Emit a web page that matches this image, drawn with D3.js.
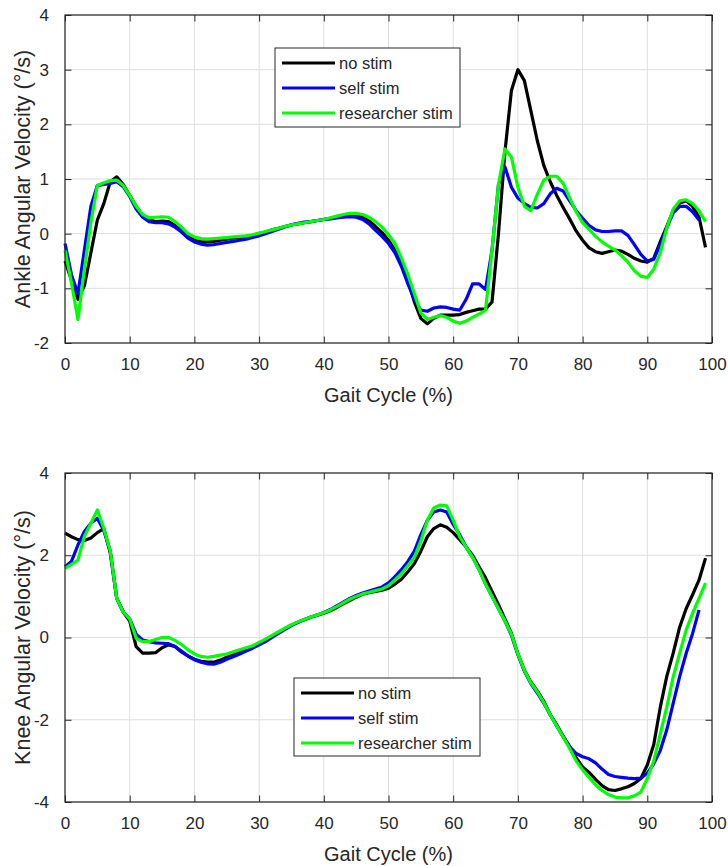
<!DOCTYPE html>
<html>
<head>
<meta charset="utf-8">
<script src="https://cdn.jsdelivr.net/npm/d3@7"></script>
<style>
  html, body { margin: 0; padding: 0; background: #ffffff; }
  svg { display: block; font-family: "Liberation Sans", Arial, Helvetica, sans-serif; }
</style>
</head>
<body>
<svg id="chart" width="728" height="866"></svg>
<script>
// Legend entries and line colours
const seriesNames = ["no stim", "self stim", "researcher stim"];
const seriesColors = ["#000000", "#0000ff", "#00ff00"];

// Ankle angular velocity (deg/s), one value per 1% of the gait cycle
const ankleNoStim = [
  -0.5, -0.85, -1.2, -0.95, -0.35, 0.25, 0.55, 0.95, 1.04, 0.9,
  0.7, 0.5, 0.33, 0.25, 0.22, 0.23, 0.22, 0.15, 0.05, -0.05,
  -0.12, -0.15, -0.15, -0.14, -0.12, -0.1, -0.08, -0.07, -0.05, -0.03,
  0.0, 0.03, 0.07, 0.1, 0.13, 0.16, 0.18, 0.2, 0.22, 0.24,
  0.26, 0.28, 0.3, 0.32, 0.33, 0.33, 0.3, 0.23, 0.13, 0.02,
  -0.12, -0.3, -0.55, -0.85, -1.25, -1.55, -1.65, -1.55, -1.49, -1.49,
  -1.49, -1.48, -1.44, -1.41, -1.38, -1.38, -1.25, 0.0, 1.5, 2.62,
  3.0, 2.8, 2.25, 1.7, 1.25, 0.95, 0.7, 0.48, 0.27, 0.05,
  -0.12, -0.26, -0.33, -0.36, -0.33, -0.3, -0.32, -0.38, -0.45, -0.5,
  -0.52, -0.45, -0.15, 0.13, 0.42, 0.56, 0.6, 0.5, 0.3, -0.25
];
const ankleSelfStim = [
  -0.18, -0.75, -1.1, -0.3, 0.5, 0.88, 0.9, 0.92, 0.95, 0.86,
  0.68, 0.45, 0.3, 0.22, 0.2, 0.2, 0.18, 0.12, 0.03, -0.08,
  -0.15, -0.19, -0.21, -0.2, -0.18, -0.16, -0.14, -0.12, -0.1, -0.07,
  -0.04, 0.0, 0.04, 0.08, 0.12, 0.16, 0.19, 0.21, 0.22, 0.24,
  0.26, 0.27, 0.29, 0.3, 0.31, 0.3, 0.26, 0.18, 0.06, -0.05,
  -0.18, -0.35, -0.6, -0.92, -1.2, -1.4, -1.42, -1.36, -1.34, -1.35,
  -1.38, -1.4, -1.2, -0.92, -0.92, -1.02, -0.3, 0.9, 1.22, 0.85,
  0.65, 0.55, 0.48, 0.47, 0.55, 0.73, 0.83, 0.78, 0.6, 0.42,
  0.28, 0.15, 0.07, 0.04, 0.04, 0.05, 0.05, -0.03, -0.2, -0.38,
  -0.5, -0.47, -0.2, 0.1, 0.38, 0.5, 0.5, 0.4, 0.25
];
const ankleResearcherStim = [
  -0.3, -0.9, -1.57, -0.65, 0.2, 0.88, 0.93, 0.97, 0.98, 0.88,
  0.7, 0.5, 0.35, 0.29, 0.3, 0.31, 0.3, 0.22, 0.12, 0.0,
  -0.06, -0.09, -0.1, -0.09, -0.08, -0.07, -0.06, -0.05, -0.04, -0.02,
  0.01, 0.04, 0.07, 0.1, 0.13, 0.16, 0.18, 0.2, 0.22, 0.24,
  0.26, 0.29, 0.32, 0.35, 0.37, 0.37, 0.35, 0.3, 0.22, 0.12,
  -0.02, -0.18, -0.45, -0.75, -1.1, -1.45, -1.57, -1.53, -1.5, -1.53,
  -1.6, -1.64, -1.6, -1.53, -1.47, -1.4, -0.3, 0.9, 1.55, 1.4,
  0.85, 0.5, 0.42, 0.72, 0.98, 1.05, 1.05, 0.92, 0.65, 0.4,
  0.2, 0.08, -0.05, -0.15, -0.23, -0.3, -0.4, -0.52, -0.68, -0.78,
  -0.8, -0.65, -0.35, 0.1, 0.45, 0.6, 0.62, 0.55, 0.42, 0.22
];

// Knee angular velocity (deg/s), one value per 1% of the gait cycle
const kneeNoStim = [
  2.54, 2.45, 2.38, 2.36, 2.42, 2.55, 2.65, 2.05, 0.95, 0.62,
  0.4, -0.22, -0.38, -0.38, -0.37, -0.25, -0.18, -0.22, -0.35, -0.45,
  -0.53, -0.58, -0.6, -0.6, -0.55, -0.48, -0.42, -0.36, -0.3, -0.23,
  -0.15, -0.07, 0.02, 0.12, 0.21, 0.3, 0.37, 0.43, 0.49, 0.54,
  0.59, 0.65, 0.73, 0.82, 0.9, 0.98, 1.05, 1.09, 1.12, 1.15,
  1.2, 1.3, 1.42, 1.6, 1.8, 2.1, 2.45, 2.65, 2.74, 2.68,
  2.55, 2.38, 2.2, 2.0, 1.72, 1.45, 1.12, 0.8, 0.45, 0.1,
  -0.4, -0.8, -1.08, -1.3, -1.55, -1.88, -2.12, -2.4, -2.65, -2.92,
  -3.15, -3.28, -3.45, -3.6, -3.7, -3.72, -3.68, -3.63, -3.55, -3.43,
  -3.1, -2.6, -1.7, -0.95, -0.38, 0.25, 0.7, 1.04, 1.4, 1.93
];
const kneeSelfStim = [
  1.72, 1.85, 2.25, 2.58, 2.78, 2.9, 2.6, 2.1, 0.95, 0.62,
  0.45, 0.08, -0.06, -0.1, -0.13, -0.14, -0.15, -0.22, -0.33, -0.45,
  -0.54, -0.6, -0.64, -0.65, -0.6, -0.53, -0.47, -0.4, -0.33, -0.26,
  -0.18, -0.1, 0.0, 0.1, 0.2, 0.29, 0.37, 0.44, 0.5, 0.55,
  0.61, 0.68, 0.77, 0.86, 0.95, 1.02, 1.08, 1.13, 1.18, 1.23,
  1.33, 1.48, 1.65, 1.85, 2.1, 2.5, 2.85, 3.05, 3.1, 3.05,
  2.75, 2.5, 2.2, 1.95, 1.65, 1.3, 1.0, 0.7, 0.4, 0.05,
  -0.42, -0.82, -1.12, -1.35, -1.6, -1.88, -2.15, -2.42, -2.65, -2.82,
  -2.9, -2.95, -3.05, -3.2, -3.33, -3.38, -3.4, -3.42, -3.43, -3.42,
  -3.3, -3.07, -2.75, -2.25, -1.6, -0.95, -0.39, 0.1, 0.67
];
const kneeResearcherStim = [
  1.68, 1.78, 1.88, 2.46, 2.78, 3.1, 2.65, 2.1, 0.95, 0.62,
  0.45, -0.02, -0.1, -0.1, -0.05, 0.0, 0.0, -0.07, -0.17, -0.3,
  -0.4, -0.46, -0.48, -0.46, -0.43, -0.4, -0.35, -0.3, -0.25, -0.2,
  -0.12, -0.04, 0.05, 0.14, 0.23, 0.31, 0.38, 0.44, 0.5, 0.55,
  0.6, 0.67, 0.75, 0.84, 0.93, 1.0, 1.06, 1.1, 1.14, 1.18,
  1.26, 1.4, 1.55, 1.75, 1.95, 2.35, 2.85, 3.15, 3.22, 3.2,
  2.85, 2.45, 2.2, 1.95, 1.65, 1.3, 1.0, 0.7, 0.4, 0.08,
  -0.4, -0.8, -1.1, -1.32, -1.58, -1.88, -2.15, -2.42, -2.7, -3.0,
  -3.22, -3.4, -3.58, -3.72, -3.82, -3.88, -3.9, -3.9, -3.85, -3.76,
  -3.43, -3.0, -2.35, -1.7, -0.96, -0.39, 0.18, 0.59, 0.95, 1.32
];

// Axis ticks
const xTicks = [0, 10, 20, 30, 40, 50, 60, 70, 80, 90, 100];
const ankleYTicks = [-2, -1, 0, 1, 2, 3, 4];
const kneeYTicks = [-4, -2, 0, 2, 4];

const xLabel = "Gait Cycle (%)";
const ankleYLabel = "Ankle Angular Velocity (°/s)";
const kneeYLabel = "Knee Angular Velocity (°/s)";

const svg = d3.select("#chart");
const axisColor = "#262626";
const gridColor = "#dfdfdf";
const tickFont = 17;
const xLabelFont = 20;
const yLabelFont = 21.5;
const legendFont = 16.5;
// plain hyphen for negative tick values
const tickFmt = d => String(d);

function drawPanel(cfg) {
  const { left, right, top, bottom, yDomain, yTicks, yLabel, series, legend } = cfg;
  const x = d3.scaleLinear().domain([0, 100]).range([left, right]);
  const y = d3.scaleLinear().domain(yDomain).range([bottom, top]);
  const g = svg.append("g");

  // grid
  g.append("g").selectAll("line").data(xTicks).join("line")
    .attr("x1", d => x(d)).attr("x2", d => x(d))
    .attr("y1", top).attr("y2", bottom)
    .attr("stroke", gridColor).attr("stroke-width", 1);
  g.append("g").selectAll("line").data(yTicks).join("line")
    .attr("x1", left).attr("x2", right)
    .attr("y1", d => y(d)).attr("y2", d => y(d))
    .attr("stroke", gridColor).attr("stroke-width", 1);

  // axes with inward ticks on all four sides
  const tl = 6.5;
  const xb = g.append("g").attr("transform", `translate(0,${bottom})`)
    .call(d3.axisBottom(x).tickValues(xTicks).tickSizeInner(-tl).tickSizeOuter(0).tickPadding(15).tickFormat(tickFmt));
  const xt = g.append("g").attr("transform", `translate(0,${top})`)
    .call(d3.axisTop(x).tickValues(xTicks).tickSizeInner(-tl).tickSizeOuter(0).tickFormat(""));
  const yl = g.append("g").attr("transform", `translate(${left},0)`)
    .call(d3.axisLeft(y).tickValues(yTicks).tickSizeInner(-tl).tickSizeOuter(0).tickPadding(16).tickFormat(tickFmt));
  const yr = g.append("g").attr("transform", `translate(${right},0)`)
    .call(d3.axisRight(y).tickValues(yTicks).tickSizeInner(-tl).tickSizeOuter(0).tickFormat(""));
  [xb, xt, yl, yr].forEach(a => {
    a.select(".domain").remove();
    a.selectAll(".tick line").attr("stroke", axisColor).attr("stroke-width", 1);
    a.selectAll(".tick text").attr("fill", axisColor).style("font-size", tickFont + "px")
      .style("font-family", "'Liberation Sans', Arial, sans-serif");
  });

  // data lines
  const line = d3.line().x((d, i) => x(i)).y(d => y(d));
  series.forEach((vals, k) => {
    g.append("path").datum(vals)
      .attr("d", line)
      .attr("fill", "none")
      .attr("stroke", seriesColors[k])
      .attr("stroke-width", 3.2)
      .attr("stroke-linejoin", "round")
      .attr("stroke-linecap", "butt");
  });

  // axes box
  g.append("rect").attr("x", left).attr("y", top)
    .attr("width", right - left).attr("height", bottom - top)
    .attr("fill", "none").attr("stroke", axisColor).attr("stroke-width", 1.2);

  // axis titles
  g.append("text").attr("x", (left + right) / 2).attr("y", bottom + 59)
    .attr("text-anchor", "middle").attr("fill", axisColor)
    .style("font-size", xLabelFont + "px").text(xLabel);
  g.append("text")
    .attr("transform", `translate(${left - 35},${(top + bottom) / 2}) rotate(-90)`)
    .attr("text-anchor", "middle").attr("fill", axisColor)
    .style("font-size", yLabelFont + "px").text(yLabel);

  // legend
  const lg = g.append("g");
  lg.append("rect").attr("x", legend.x).attr("y", legend.y)
    .attr("width", legend.w).attr("height", legend.h)
    .attr("fill", "#ffffff").attr("stroke", axisColor).attr("stroke-width", 1);
  seriesNames.forEach((name, k) => {
    const ry = legend.y + 15 + k * 25;
    lg.append("line").attr("x1", legend.x + 7).attr("x2", legend.x + 60)
      .attr("y1", ry).attr("y2", ry)
      .attr("stroke", seriesColors[k]).attr("stroke-width", 3.2);
    lg.append("text").attr("x", legend.x + 64).attr("y", ry).attr("dy", "0.35em")
      .attr("fill", axisColor).style("font-size", legendFont + "px").text(name);
  });
}

drawPanel({
  left: 65, right: 712, top: 15, bottom: 343,
  yDomain: [-2, 4], yTicks: ankleYTicks, yLabel: ankleYLabel,
  series: [ankleNoStim, ankleSelfStim, ankleResearcherStim],
  legend: { x: 275, y: 48, w: 185, h: 79 }
});
drawPanel({
  left: 65, right: 712, top: 473, bottom: 802,
  yDomain: [-4, 4], yTicks: kneeYTicks, yLabel: kneeYLabel,
  series: [kneeNoStim, kneeSelfStim, kneeResearcherStim],
  legend: { x: 294, y: 678, w: 186, h: 78 }
});
</script>
</body>
</html>
